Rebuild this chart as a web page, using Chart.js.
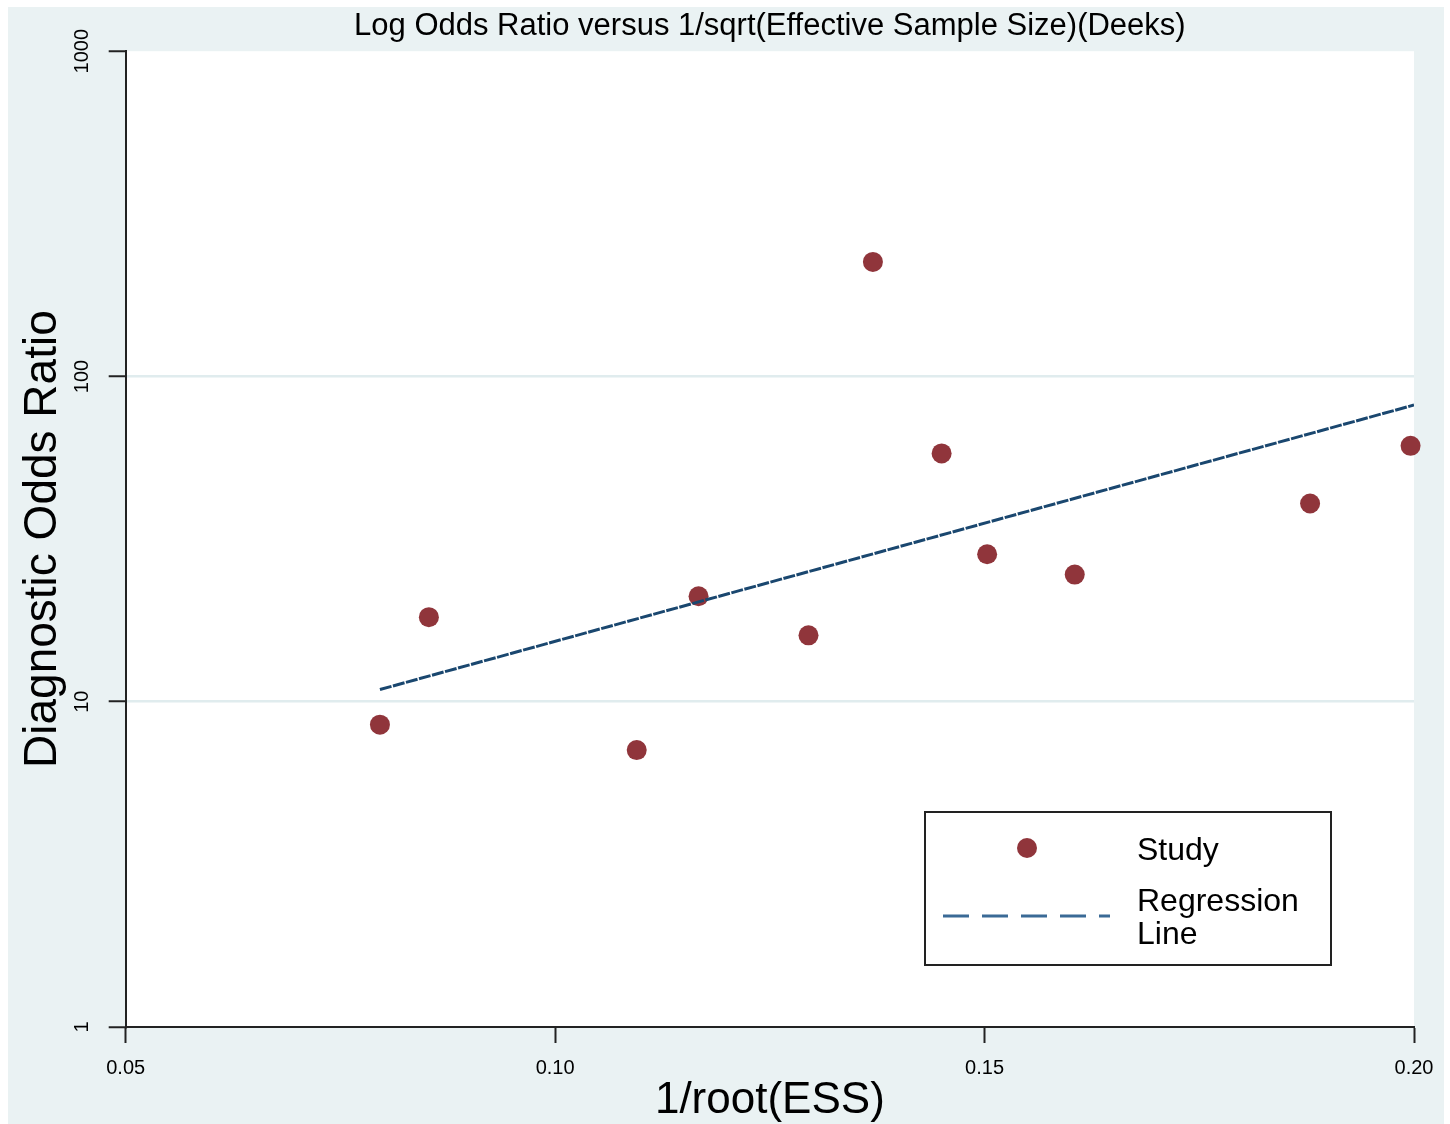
<!DOCTYPE html>
<html>
<head>
<meta charset="utf-8">
<script src="https://cdn.jsdelivr.net/npm/chart.js@4.4.1/dist/chart.umd.min.js"></script>
<style>
  html, body { margin: 0; padding: 0; background: #fff; }
  #wrap { width: 1450px; height: 1124px; }
</style>
</head>
<body>
<div id="wrap"><canvas id="deeks" width="1450" height="1124"></canvas></div>
<script>
// values
const studyX = [0.0796, 0.0853, 0.1095, 0.1167, 0.1295, 0.1370, 0.1450, 0.1503, 0.1605, 0.1879, 0.1996];
const studyDOR = [8.5, 18.2, 7.1, 21.1, 16.0, 225, 58.0, 28.4, 24.6, 40.7, 61.2];
const regX = [0.0796, 0.2000];
const regDOR = [10.9, 81.7];
const xTicks = [0.05, 0.10, 0.15, 0.20];
const yTicks = [1, 10, 100, 1000];

const FONT = "'Liberation Sans', Arial, sans-serif";
const BG = '#eaf2f3';
const AXIS = '#222';

const backdrop = {
  id: 'backdrop',
  beforeDraw(chart) {
    const { ctx, chartArea: a } = chart;
    ctx.save();
    ctx.fillStyle = '#fff';
    ctx.fillRect(0, 0, chart.width, chart.height);
    ctx.fillStyle = BG;
    ctx.fillRect(8, 7, 1436, 1117);
    ctx.fillStyle = '#fff';
    ctx.fillRect(a.left, a.top, a.right - a.left, a.bottom - a.top);
    ctx.restore();
  }
};

// Stata-style legend box inside the plot
const boxLegend = {
  id: 'boxLegend',
  afterDraw(chart) {
    const ctx = chart.ctx;
    ctx.save();
    ctx.strokeStyle = AXIS;
    ctx.lineWidth = 2;
    ctx.strokeRect(925, 812, 406, 153);
    ctx.fillStyle = '#90353b';
    ctx.beginPath();
    ctx.arc(1027, 848, 10, 0, Math.PI * 2);
    ctx.fill();
    ctx.strokeStyle = '#3a6a96';
    ctx.lineWidth = 3;
    ctx.setLineDash([26, 13]);
    ctx.beginPath();
    ctx.moveTo(943, 916);
    ctx.lineTo(1110, 916);
    ctx.stroke();
    ctx.setLineDash([]);
    ctx.fillStyle = '#000';
    ctx.font = '32px ' + FONT;
    ctx.textBaseline = 'alphabetic';
    ctx.textAlign = 'left';
    ctx.fillText('Study', 1137, 860);
    ctx.fillText('Regression', 1137, 911);
    ctx.fillText('Line', 1137, 944);
    ctx.restore();
  }
};

new Chart(document.getElementById('deeks'), {
  type: 'scatter',
  data: {
    datasets: [
      {
        type: 'line',
        label: 'Regression Line',
        data: regX.map((x, i) => ({ x, y: regDOR[i] })),
        borderColor: '#1a476f',
        borderWidth: 3,
        borderDash: [12, 1.5],
        pointRadius: 0,
        fill: false
      },
      {
        label: 'Study',
        data: studyX.map((x, i) => ({ x, y: studyDOR[i] })),
        backgroundColor: '#90353b',
        borderWidth: 0,
        pointRadius: 10,
        clip: false
      }
    ]
  },
  options: {
    responsive: false,
    animation: false,
    devicePixelRatio: 1,
    layout: { padding: { left: 0, right: 36, top: 0, bottom: 0 } },
    plugins: {
      legend: { display: false },
      tooltip: { enabled: false },
      title: {
        display: true,
        fullSize: false,
        text: 'Log Odds Ratio versus 1/sqrt(Effective Sample Size)(Deeks)',
        color: '#000',
        font: { family: FONT, size: 31, weight: 'normal' },
        padding: { top: 8, bottom: 6 }
      }
    },
    scales: {
      x: {
        type: 'linear',
        min: 0.05,
        max: 0.20,
        afterBuildTicks: s => { s.ticks = xTicks.map(v => ({ value: v })); },
        afterFit: s => { s.height = 97; },
        ticks: {
          autoSkip: false,
          maxRotation: 0,
          padding: 13,
          color: '#000',
          font: { family: FONT, size: 20 },
          callback: v => v.toFixed(2)
        },
        grid: { drawOnChartArea: false, tickLength: 16, tickColor: AXIS, tickWidth: 2 },
        border: { color: AXIS, width: 2 },
        title: {
          display: true,
          text: '1/root(ESS)',
          color: '#000',
          font: { family: FONT, size: 44, lineHeight: 1 },
          padding: { top: 0, bottom: 1 }
        }
      },
      y: {
        type: 'logarithmic',
        min: 1,
        max: 1000,
        afterBuildTicks: s => { s.ticks = yTicks.map(v => ({ value: v })); },
        afterFit: s => { s.width = 125.7; },
        ticks: {
          autoSkip: false,
          minRotation: 90,
          maxRotation: 90,
          crossAlign: 'center',
          padding: 4,
          color: '#000',
          font: { family: FONT, size: 20 },
          callback: v => String(v)
        },
        grid: {
          color: c => (c.tick && (c.tick.value === 10 || c.tick.value === 100)) ? '#e0ecee' : 'rgba(0,0,0,0)',
          lineWidth: 2.5,
          tickLength: 17,
          tickColor: AXIS,
          tickWidth: 2
        },
        border: { color: AXIS, width: 2 },
        title: {
          display: true,
          text: 'Diagnostic Odds Ratio',
          color: '#000',
          font: { family: FONT, size: 46, lineHeight: 1 },
          padding: { top: 20, bottom: 0 }
        }
      }
    }
  },
  plugins: [backdrop, boxLegend]
});
</script>
</body>
</html>
